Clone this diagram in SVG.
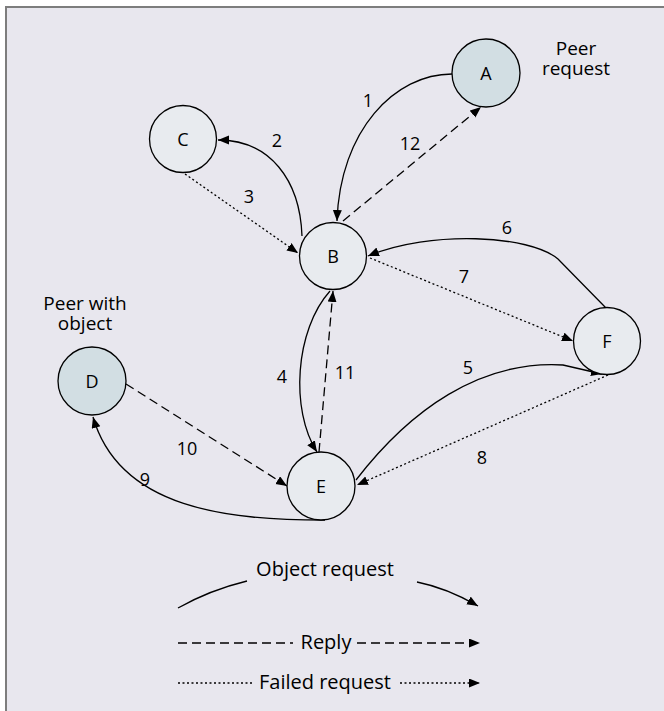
<svg xmlns="http://www.w3.org/2000/svg" width="664" height="711" viewBox="0 0 664 711">
  <defs>
    <marker id="arrow" markerUnits="userSpaceOnUse" markerWidth="12" markerHeight="10" refX="11" refY="4.5" orient="auto">
      <path d="M0,0 L11,4.5 L0,9 Z" fill="#000"/>
    </marker>
    <style>
      .node circle { stroke: #000; stroke-width: 1.3; }
      .peer { fill: #d2dee3; }
      .plain { fill: #e8ebef; }
      text { font-family: "Open Sans", "Noto Sans", "DejaVu Sans", sans-serif; fill: #000; }
      .nl { font-size: 18px; text-anchor: middle; }
      .el { font-size: 18px; text-anchor: middle; }
      .cap { font-size: 19px; text-anchor: middle; }
      .leg { font-size: 20px; text-anchor: middle; }
      .edge { fill: none; stroke: #000; stroke-width: 1.3; }
      .req { marker-end: url(#arrow); }
      .reply { stroke-dasharray: 9 5; }
      .fail { stroke-dasharray: 2 2.5; }
    </style>
  </defs>

  <!-- page and panel frame -->
  <rect x="0" y="0" width="664" height="711" fill="#ffffff"/>
  <rect x="6" y="7" width="670" height="720" fill="#e8e7ee"/>
  <line x1="5" y1="7" x2="664" y2="7" stroke="#7d7d7d" stroke-width="2"/>
  <line x1="6" y1="6" x2="6" y2="711" stroke="#7d7d7d" stroke-width="2"/>

  <!-- connectors -->
  <g id="connectors">
    <!-- 1: A to B -->
    <path class="edge req" d="M452,74 C395,74 340,130 337,221"/>
    <!-- 12: B to A -->
    <path class="edge req reply" d="M343,221 L481,107"/>
    <!-- 2: B to C -->
    <path class="edge req" d="M302,236 C300,180 270,140 218,140"/>
    <!-- 3: C to B -->
    <path class="edge req fail" d="M185,174 L298,253"/>
    <!-- 6: F to B -->
    <path class="edge req" d="M606,308 L558,259 C530,235 430,230 368,256"/>
    <!-- 7: B to F -->
    <path class="edge req fail" d="M370,258 L573,341"/>
    <!-- 4: B to E -->
    <path class="edge req" d="M330,291 C295,330 290,410 317,452"/>
    <!-- 11: E to B -->
    <path class="edge req reply" d="M319,452 L333,291"/>
    <!-- 5: E to F -->
    <path class="edge req" d="M356,480 C410,410 480,360 563,365 L602,374"/>
    <!-- 8: F to E -->
    <path class="edge req fail" d="M608,375 L357,485"/>
    <!-- 9: E to D -->
    <path class="edge req" d="M325,520 C230,520 120,510 93,417"/>
    <!-- 10: D to E -->
    <path class="edge req reply" d="M126,384 L287,486"/>
  </g>

  <!-- connector labels -->
  <g id="edge-labels">
    <text class="el" x="368" y="107">1</text>
    <text class="el" x="277" y="147">2</text>
    <text class="el" x="249" y="203">3</text>
    <text class="el" x="282" y="383">4</text>
    <text class="el" x="468" y="374">5</text>
    <text class="el" x="507" y="234">6</text>
    <text class="el" x="464" y="283">7</text>
    <text class="el" x="482" y="464">8</text>
    <text class="el" x="145" y="486">9</text>
    <text class="el" x="187" y="455">10</text>
    <text class="el" x="345" y="379">11</text>
    <text class="el" x="410" y="150">12</text>
  </g>

  <!-- nodes -->
  <g id="node-A" class="node">
    <circle class="peer" cx="486" cy="73" r="34"/>
    <text class="nl" x="486" y="79.5">A</text>
  </g>
  <g id="node-B" class="node">
    <circle class="plain" cx="333" cy="256" r="33.5"/>
    <text class="nl" x="333" y="262.5">B</text>
  </g>
  <g id="node-C" class="node">
    <circle class="plain" cx="183" cy="139" r="33.5"/>
    <text class="nl" x="183" y="145.5">C</text>
  </g>
  <g id="node-D" class="node">
    <circle class="peer" cx="92" cy="381" r="34"/>
    <text class="nl" x="92" y="387.5">D</text>
  </g>
  <g id="node-E" class="node">
    <circle class="plain" cx="321" cy="486" r="34"/>
    <text class="nl" x="321" y="492.5">E</text>
  </g>
  <g id="node-F" class="node">
    <circle class="plain" cx="607" cy="341" r="33.5"/>
    <text class="nl" x="607" y="347.5">F</text>
  </g>

  <!-- role captions, two lines each -->
  <g id="caption-A">
    <text class="cap" x="576" y="55">Peer<tspan x="576" dy="20">request</tspan></text>
  </g>
  <g id="caption-D">
    <text class="cap" x="85" y="310">Peer with<tspan x="85" dy="20">object</tspan></text>
  </g>

  <!-- legend -->
  <g id="legend">
    <path class="edge" d="M178,608 Q210,590 247,581"/>
    <text class="leg" x="325" y="576">Object request</text>
    <path class="edge req" d="M417,582 Q447,588 478,606"/>

    <line class="edge reply" x1="178" y1="643" x2="293" y2="643"/>
    <text class="leg" x="326" y="649">Reply</text>
    <line class="edge req reply" x1="357" y1="643" x2="480" y2="643"/>

    <line class="edge fail" x1="178" y1="683" x2="254" y2="683"/>
    <text class="leg" x="325" y="689">Failed request</text>
    <line class="edge req fail" x1="400" y1="683" x2="480" y2="683"/>
  </g>
</svg>
